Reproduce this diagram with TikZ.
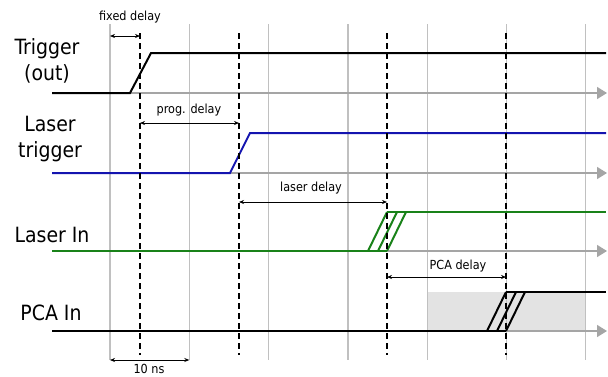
\documentclass[tikz,border=0pt]{standalone}
\usepackage{fontspec}
\setmainfont{DejaVu Sans Condensed}
\usetikzlibrary{arrows.meta, positioning}
\definecolor{gridgray}{RGB}{192,192,192}
\definecolor{axisgray}{RGB}{165,165,165}
\definecolor{trigblue}{RGB}{20,20,175}
\definecolor{lasergreen}{RGB}{25,130,25}

\begin{document}
\begin{tikzpicture}[x=1pt, y=-1pt,
    gridline/.style={gridgray, line width=1.2pt},
    axisline/.style={axisgray, line width=1.5pt, -{Triangle[length=10pt,width=12pt]}},
    marker/.style={black, line width=2.2pt, dash pattern=on 6pt off 4pt},
    signal/.style={line width=2pt},
    delay/.style={black, line width=0.7pt, {Stealth[length=5pt,width=4pt]}-{Stealth[length=5pt,width=4pt]}},
    lbl/.style={font=\fontsize{21}{26}\selectfont, align=center, inner sep=0pt},
    dlbl/.style={font=\fontsize{12.5}{14}\selectfont, inner sep=0pt}]
\useasboundingbox (0,0) rectangle (608,376);
% shaded window of the PCA edge
\fill[gray!22] (427,292) rectangle (586,331);
% time grid, one line each 10 ns
\foreach \k in {0,...,6} {
  \coordinate (g\k) at (110+79.3*\k,0);
  \draw[gridline] (g\k |- 0,24) -- (g\k |- 0,360);
}
% time axes
\foreach \y in {93,173,251,331}
  \draw[axisline] (52,\y) -- (607,\y);
% signals
\draw[signal] (52,93) -- (130,93) -- (151,53) -- (606,53);
\draw[signal, trigblue] (52,173) -- (230,173) -- (250,133) -- (606,133);
\draw[signal, lasergreen] (52,251) -- (387,251);
\draw[signal, lasergreen] (387,212) -- (606,212);
\foreach \d in {0,10,19}
  \draw[signal, lasergreen] (368+\d,251) -- (387+\d,212);
\draw[signal] (52,331) -- (506,331);
\draw[signal] (506,292) -- (606,292);
\foreach \d in {0,10,19}
  \draw[signal] (487+\d,331) -- (506+\d,292);
% edge markers
\foreach \x/\n in {140/m1, 239/m2, 387/m3, 506/m4} {
  \coordinate (\n) at (\x,0);
  \draw[marker] (\n |- 0,33) -- (\n |- 0,355);
}
% delays
\draw[delay] (g0 |- 0,36) -- (m1 |- 0,36);
\draw[delay] (m1 |- 0,123) -- (m2 |- 0,123);
\draw[delay] (m2 |- 0,202) -- (m3 |- 0,202);
\draw[delay] (m3 |- 0,277) -- (m4 |- 0,277);
\draw[delay] (g0 |- 0,360) -- (g1 |- 0,360);
\node[dlbl] (fixed) at (130,17) {fixed delay};
\node[dlbl] (prog) at (189,110) {prog. delay};
\node[dlbl] (laser) at (311,188) {laser delay};
\node[dlbl] (pca) at (458,266) {PCA delay};
\node[dlbl] (tenns) at (149,369) {10 ns};
% channel names
\node[lbl] (trigout) at (47,61) {Trigger\\(out)};
\node[lbl] (lasertrig) at (50,139) {Laser\\trigger};
\node[lbl] (laserin) at (52,235) {Laser In};
\node[lbl] (pcain) at (51,313) {PCA In};
\end{tikzpicture}
\end{document}
